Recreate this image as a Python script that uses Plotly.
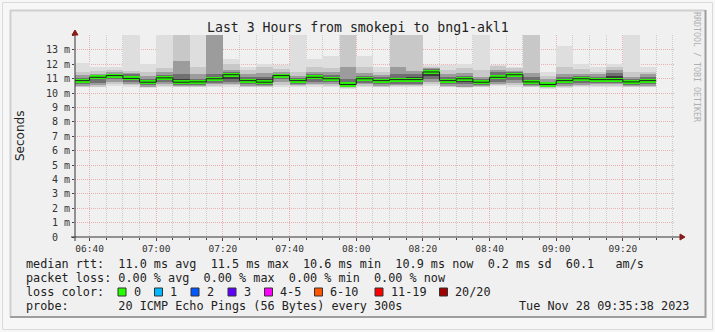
import plotly.graph_objects as go
import pandas as pd

# ---------------- data ----------------
bar_start = "2023-11-28 06:35:00"
n_bars = 35
x_range = ["2023-11-28 06:35:38", "2023-11-28 09:35:38"]

median = [10.87, 11.10, 11.22, 11.02, 10.76, 11.06, 10.76, 10.78, 11.00, 11.28,
          10.87, 10.76, 11.22, 10.87, 11.10, 11.00, 10.60, 11.00, 10.87, 10.94,
          10.94, 11.47, 10.87, 11.00, 10.76, 11.10, 11.28, 10.78, 10.60, 10.87,
          11.00, 10.94, 10.94, 10.78, 10.87]

# smoke layers (outer -> inner), values in ms ; 14.5 = beyond top of chart
hi1 = [12.1, 11.8, 11.8, 14.5, 12.0, 14.5, 14.5, 14.5, 14.5, 12.35,
       11.8, 12.05, 11.95, 14.5, 12.4, 12.6, 14.5, 12.55, 11.8, 14.5,
       14.5, 11.95, 11.95, 12.05, 14.5, 11.95, 11.85, 14.5, 11.45, 13.3,
       12.0, 11.8, 12.0, 14.5, 11.85]
hi2 = [11.5, 11.55, 11.6, 11.55, 11.5, 11.75, 14.5, 11.8, 14.5, 12.0,
       11.6, 11.8, 11.7, 11.5, 11.8, 11.75, 14.5, 11.8, 11.5, 14.5,
       14.5, 11.85, 11.6, 11.75, 11.6, 11.9, 11.75, 14.5, 11.2, 11.8,
       11.65, 11.5, 11.85, 11.5, 11.5]
hi3 = [11.25, 11.35, 11.45, 11.4, 11.2, 11.45, 12.2, 11.3, 14.5, 11.6,
       11.3, 11.4, 11.45, 11.2, 11.5, 11.45, 11.8, 11.4, 11.25, 11.8,
       11.55, 11.75, 11.3, 11.4, 11.1, 11.6, 11.55, 11.4, 10.95, 11.3,
       11.35, 11.3, 11.6, 11.15, 11.35]
hi4 = [11.05, 11.2, 11.35, 11.3, 11.0, 11.25, 11.3, 11.0, 11.3, 11.45,
       11.1, 11.1, 11.35, 11.05, 11.3, 11.25, 11.0, 11.2, 11.1, 11.3,
       11.3, 11.65, 11.1, 11.2, 10.95, 11.45, 11.45, 11.1, 10.8, 11.1,
       11.2, 11.15, 11.4, 11.0, 11.15]
hi5 = [10.95, 11.15, 11.3, 11.2, 10.9, 11.15, 11.0, 10.9, 11.15, 11.38,
       11.0, 10.95, 11.3, 10.98, 11.2, 11.1, 10.75, 11.1, 11.0, 11.05,
       11.1, 11.57, 11.0, 11.1, 10.88, 11.25, 11.38, 10.9, 10.7, 11.0,
       11.1, 11.05, 11.2, 10.9, 11.0]
lo5 = [10.75, 10.95, 11.1, 10.9, 10.65, 10.9, 10.65, 10.65, 10.85, 11.0,
       10.75, 10.65, 11.1, 10.75, 10.95, 10.85, 10.5, 10.85, 10.7, 10.8,
       10.8, 11.2, 10.75, 10.8, 10.65, 10.95, 11.1, 10.65, 10.5, 10.75,
       10.85, 10.8, 10.8, 10.65, 10.75]
lo4 = [10.6, 10.7, 10.95, 10.8, 10.55, 10.75, 10.55, 10.55, 10.7, 10.8,
       10.6, 10.55, 10.95, 10.65, 10.8, 10.75, 10.45, 10.7, 10.6, 10.65,
       10.65, 11.0, 10.6, 10.6, 10.55, 10.8, 10.9, 10.55, 10.45, 10.6,
       10.7, 10.7, 10.7, 10.55, 10.6]
lo3 = [10.5, 10.55, 10.8, 10.65, 10.45, 10.6, 10.5, 10.5, 10.6, 10.65,
       10.5, 10.5, 10.75, 10.55, 10.65, 10.6, 10.4, 10.6, 10.5, 10.55,
       10.55, 10.8, 10.5, 10.45, 10.5, 10.65, 10.7, 10.5, 10.4, 10.5,
       10.55, 10.6, 10.6, 10.5, 10.5]
lo2 = [10.45, 10.45, 10.6, 10.55, 10.4, 10.5, 10.45, 10.45, 10.5, 10.55,
       10.45, 10.45, 10.55, 10.5, 10.55, 10.5, 10.35, 10.5, 10.45, 10.5,
       10.5, 10.65, 10.45, 10.4, 10.45, 10.55, 10.55, 10.45, 10.35, 10.45,
       10.5, 10.5, 10.5, 10.45, 10.45]
lo1 = [10.4, 10.4, 10.5, 10.45, 10.35, 10.4, 10.4, 10.4, 10.45, 10.45,
       10.4, 10.4, 10.45, 10.45, 10.45, 10.45, 10.3, 10.45, 10.4, 10.45,
       10.45, 10.5, 10.4, 10.35, 10.4, 10.5, 10.45, 10.4, 10.3, 10.35,
       10.45, 10.45, 10.45, 10.4, 10.4]

y_tick_vals = list(range(15))
y_tick_text = ["0\u00a0\u00a0"] + [f"{v} m" for v in range(1, 14)] + [""]

title = "Last 3 Hours from smokepi to bng1-akl1"
line_rtt = "median rtt:  11.0 ms avg  11.5 ms max  10.6 ms min  10.9 ms now  0.2 ms sd  60.1   am/s"
line_loss = "packet loss: 0.00 % avg  0.00 % max  0.00 % min  0.00 % now"
loss_labels = ["0", "1", "2", "3", "4-5", "6-10", "11-19", "20/20"]
loss_colors = ["#26ff00", "#00b8ff", "#0059ff", "#5e00ff", "#ff00ff", "#ff5500", "#ff0000", "#a00000"]
loss_box_x = [118, 154.5, 191, 228, 264.5, 314.5, 375, 439.5]
line_probe = "probe:       20 ICMP Echo Pings (56 Bytes) every 300s"
date_text = "Tue Nov 28 09:35:38 2023"

# ---------------- geometry helpers (pixels -> paper) ----------------
L, R, T, B = 75, 675, 35, 237
def px(x):
    return (x - L) / (R - L)
def py(y):
    return (B - y) / (B - T)

starts = pd.date_range(bar_start, periods=n_bars, freq="5min")
edges = pd.date_range(bar_start, periods=n_bars + 1, freq="5min")
centers = starts + pd.Timedelta(seconds=150)
bar_w = 300000

fig = go.Figure()
layers = [(lo1, hi1, "#dedede"), (lo2, hi2, "#c8c8c8"), (lo3, hi3, "#9c9c9c"),
          (lo4, hi4, "#707070"), (lo5, hi5, "#3c3c3c")]
for lo, hi, col in layers:
    fig.add_trace(go.Bar(x=centers, y=[h - l for h, l in zip(hi, lo)], base=lo,
                         width=bar_w, marker=dict(color=col, line=dict(width=0)),
                         hoverinfo="skip"))
# median band (loss colour) and median step line
band = 0.28
fig.add_trace(go.Bar(x=centers, y=[band] * n_bars, base=[m - band / 2 for m in median],
                     width=bar_w, marker=dict(color="#2cf00a", line=dict(width=0)),
                     hoverinfo="skip"))
fig.add_trace(go.Scatter(x=edges, y=median + [median[-1]], mode="lines",
                         line=dict(shape="hv", color="#202020", width=1),
                         hoverinfo="skip"))

grid_major = "rgba(225,100,100,0.45)"
grid_minor = "rgba(150,150,150,0.40)"
fig.update_layout(
    width=715, height=332,
    margin=dict(l=L, r=715 - R, t=T, b=332 - B),
    paper_bgcolor="#f7f7f7", plot_bgcolor="#ffffff",
    showlegend=False, barmode="overlay", bargap=0,
    font=dict(family="DejaVu Sans Mono", color="#222"),
    xaxis=dict(type="date", range=x_range, tickmode="linear",
               tick0="2023-11-28 06:40:00", dtick=1200000, tickformat="%H:%M",
               ticks="outside", ticklen=3, tickcolor="#444",
               tickfont=dict(size=9.5, color="#333"),
               showgrid=True, gridcolor=grid_major, griddash="1px,1px", gridwidth=1,
               minor=dict(dtick=300000, tick0="2023-11-28 06:40:00", showgrid=True,
                          gridcolor=grid_minor, griddash="1px,1px",
                          ticks="outside", ticklen=2, tickcolor="#444"),
               zeroline=False, showline=False, fixedrange=True),
    yaxis=dict(range=[0, 14.04], tickmode="array", tickvals=y_tick_vals,
               ticktext=y_tick_text, ticks="outside", ticklen=2, tickcolor="#444",
               tickfont=dict(size=10, color="#333"),
               showgrid=True, gridcolor=grid_major, griddash="1px,1px", gridwidth=1,
               zeroline=False, showline=False, fixedrange=True),
)

shapes = []
# outer rim and inner panel
shapes.append(dict(type="rect", xref="paper", yref="paper", x0=px(2.5), x1=px(712.5),
                   y0=py(329.5), y1=py(2.5), line=dict(color="#dadada", width=1),
                   fillcolor="#f7f7f7", layer="below"))
shapes.append(dict(type="rect", xref="paper", yref="paper", x0=px(10), x1=px(705),
                   y0=py(317), y1=py(10), line=dict(width=0),
                   fillcolor="#f0f0f0", layer="below"))
for (x0, y0, x1, y1, c) in [(10, 10.5, 705, 10.5, "#cfcfcf"), (10.5, 10, 10.5, 317, "#cfcfcf"),
                            (10, 317, 706, 317, "#9e9e9e"), (705.5, 10, 705.5, 318, "#9e9e9e")]:
    shapes.append(dict(type="line", xref="paper", yref="paper", x0=px(x0), x1=px(x1),
                       y0=py(y0), y1=py(y1), line=dict(color=c, width=2), layer="below"))
# axes
shapes.append(dict(type="line", xref="paper", yref="paper", x0=px(71), x1=px(681),
                   y0=py(237), y1=py(237), line=dict(color="#333", width=1)))
shapes.append(dict(type="line", xref="paper", yref="paper", x0=px(75), x1=px(75),
                   y0=py(241), y1=py(33), line=dict(color="#333", width=1)))
arrow = "#8b1a1a"
shapes.append(dict(type="path", xref="paper", yref="paper",
                   path=f"M {px(680)} {py(234)} L {px(685)} {py(237)} L {px(680)} {py(240)} Z",
                   fillcolor=arrow, line=dict(color=arrow, width=1)))
shapes.append(dict(type="path", xref="paper", yref="paper",
                   path=f"M {px(72)} {py(35)} L {px(75)} {py(30)} L {px(78)} {py(35)} Z",
                   fillcolor=arrow, line=dict(color=arrow, width=1)))
# loss colour boxes
for bx, col in zip(loss_box_x, loss_colors):
    shapes.append(dict(type="rect", xref="paper", yref="paper", x0=px(bx), x1=px(bx + 8),
                       y0=py(296), y1=py(288), fillcolor=col,
                       line=dict(color="#333", width=1)))
fig.update_layout(shapes=shapes)

LEG = 11.8
def txt(s, x, y, anchor="left", size=LEG, color="#222", angle=0, family="DejaVu Sans Mono"):
    return dict(text=s, xref="paper", yref="paper", x=px(x), y=py(y), xanchor=anchor,
                yanchor="middle", showarrow=False, textangle=angle,
                font=dict(family=family, size=size, color=color))

ann = []
ann.append(txt(title, 357.5, 28, anchor="center", size=13.2))
ann.append(txt("Seconds", 20, 136, anchor="center", size=12, angle=-90, family="DejaVu Sans"))
ann.append(txt("RRDTOOL / TOBI OETIKER", 697, 67, anchor="center", size=8.3,
               color="#b0b0b0", angle=90))
ann.append(txt(line_rtt, 23.5, 263.5))
ann.append(txt(line_loss, 23.5, 277.5))
ann.append(txt("loss color:", 23.5, 292))
for bx, lab in zip(loss_box_x, loss_labels):
    ann.append(txt(lab, bx + 13.5, 292))
ann.append(txt(line_probe, 23.5, 306))
ann.append(txt(date_text, 690.5, 306, anchor="right"))
fig.update_layout(annotations=ann)

fig.write_html("out.html")
